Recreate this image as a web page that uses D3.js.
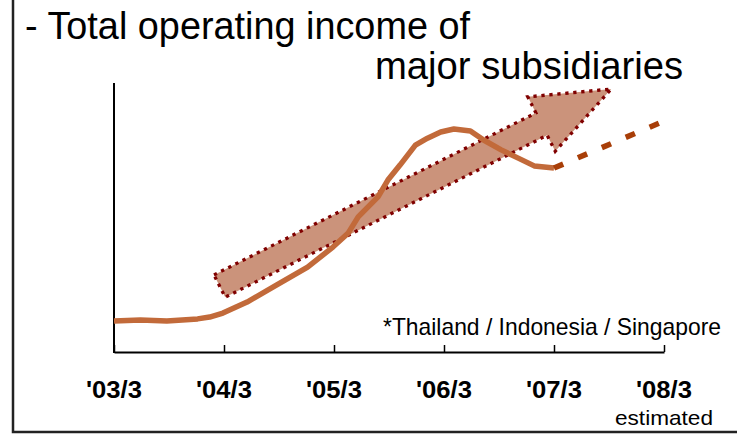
<!DOCTYPE html>
<html>
<head>
<meta charset="utf-8">
<script src="https://cdn.jsdelivr.net/npm/d3@7"></script>
<style>
  body { margin: 0; background: #fff; }
  text { font-family: "Liberation Sans", Arial, sans-serif; fill: #000; }
</style>
</head>
<body>
<div id="chart"></div>
<script>
// Data (years since '03/3, relative income index)
var periods = ["'03/3", "'04/3", "'05/3", "'06/3", "'07/3", "'08/3"];
var actualX = [0, 0.24, 0.48, 0.76, 0.87, 0.99, 1.21, 1.48, 1.76, 1.99, 2.13, 2.22, 2.40, 2.49, 2.60, 2.74, 2.85, 2.97, 3.09, 3.24, 3.36, 3.52, 3.67, 3.82, 4.0];
var actualY = [11.6, 12.0, 11.6, 12.4, 13.1, 14.6, 18.7, 25.1, 31.8, 39.3, 44.6, 50.6, 58.1, 64.4, 70.0, 77.5, 80.1, 82.4, 83.5, 82.8, 79.4, 75.7, 72.7, 69.7, 68.9];
var estimateX = [4.0, 5.0];
var estimateY = [68.9, 86.5];
var trendArrow = [[0.96, 24.7], [4.52, 98.5]];

var svgWidth = 737;
var svgHeight = 434;

var svg = d3.select("#chart")
  .append("svg")
  .attr("width", svgWidth)
  .attr("height", svgHeight);

// narrow text helper: squeeze glyphs to the measured width
function narrowText(x, y, str, size, width, anchor, weight) {
  return svg.append("text")
    .attr("x", x).attr("y", y)
    .attr("text-anchor", anchor || "start")
    .attr("font-size", size)
    .attr("font-weight", weight || "normal")
    .attr("textLength", width)
    .attr("lengthAdjust", "spacingAndGlyphs")
    .text(str);
}

// frame (left and bottom only)
svg.append("path")
  .attr("d", "M13,0 V432 H737")
  .attr("fill", "none")
  .attr("stroke", "#222")
  .attr("stroke-width", 2.5);

// title
narrowText(25, 39, "- Total operating income of", 38, 445);
narrowText(683, 79, "major subsidiaries", 38, 308, "end");

var xScale = d3.scaleLinear().domain([0, 5]).range([114, 664]);
var yScale = d3.scaleLinear().domain([0, 100]).range([352, 85]);

// axes
svg.append("line")
  .attr("x1", xScale(0)).attr("x2", xScale(0))
  .attr("y1", 83).attr("y2", 353)
  .attr("stroke", "#000").attr("stroke-width", 2);

var xAxis = d3.axisBottom(xScale)
  .tickValues(d3.range(periods.length))
  .tickSizeInner(-7)
  .tickSizeOuter(0)
  .tickFormat("");
var gx = svg.append("g")
  .attr("transform", "translate(0," + yScale(0) + ")")
  .call(xAxis);
gx.select(".domain").attr("stroke", "#000").attr("stroke-width", 2);
gx.selectAll(".tick line").attr("stroke", "#000").attr("stroke-width", 1.5);

periods.forEach(function (p, i) {
  narrowText(xScale(i), 398, p, 24, 56, "middle", "bold");
});

narrowText(xScale(5), 425, "estimated", 21, 98, "middle");

// trend arrow
var p0 = [xScale(trendArrow[0][0]), yScale(trendArrow[0][1])];
var p1 = [xScale(trendArrow[1][0]), yScale(trendArrow[1][1])];
var dx = p1[0] - p0[0], dy = p1[1] - p0[1];
var len = Math.sqrt(dx * dx + dy * dy);
var ux = dx / len, uy = dy / len;
var nx = -uy, ny = ux;
var shaftW = 12.5, headW = 30.5, headL = 78;
function pt(a, n) { return [p0[0] + ux * a + nx * n, p0[1] + uy * a + ny * n]; }
var arrowPts = [
  pt(0, -shaftW), pt(len - headL, -shaftW), pt(len - headL, -headW), pt(len, 0),
  pt(len - headL, headW), pt(len - headL, shaftW), pt(0, shaftW)
];
svg.append("path")
  .attr("d", d3.line()(arrowPts) + "Z")
  .attr("fill", "#cb937b")
  .attr("stroke", "#800000")
  .attr("stroke-width", 3.3)
  .attr("stroke-dasharray", "3.3,4.7");

// actual line
var line = d3.line()
  .x(function (d) { return xScale(d[0]); })
  .y(function (d) { return yScale(d[1]); });

svg.append("path")
  .attr("d", line(d3.zip(actualX, actualY)))
  .attr("fill", "none")
  .attr("stroke", "#c26a3a")
  .attr("stroke-width", 5.5)
  .attr("stroke-linejoin", "round");

// estimate
svg.append("path")
  .attr("d", line(d3.zip(estimateX, estimateY)))
  .attr("fill", "none")
  .attr("stroke", "#a83e08")
  .attr("stroke-width", 5.5)
  .attr("stroke-dasharray", "10,16");

// footnote
narrowText(721, 335, "*Thailand / Indonesia / Singapore", 24, 338, "end");
</script>
</body>
</html>
